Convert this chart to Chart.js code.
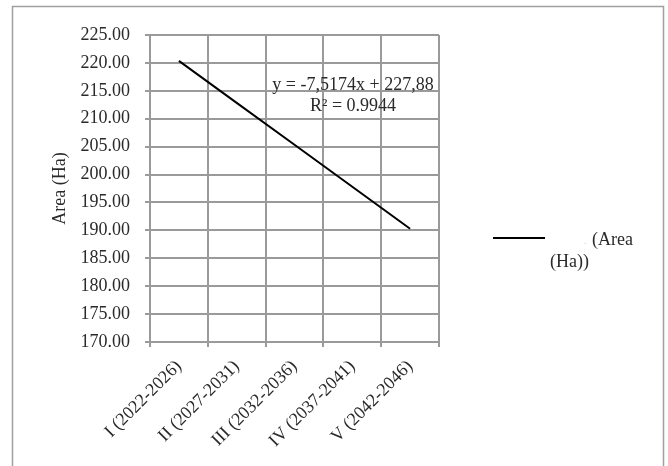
<!DOCTYPE html>
<html>
<head>
<meta charset="utf-8">
<script src="https://cdn.jsdelivr.net/npm/chart.js@4"></script>
<style>
  html, body { margin: 0; padding: 0; background: #fff; }
  #wrap { width: 668px; height: 466px; }
</style>
</head>
<body>
<div id="wrap"><canvas id="chart" width="668" height="466"></canvas></div>
<script>
// data
const periods = ['I (2022-2026)', 'II (2027-2031)', 'III (2032-2036)', 'IV (2037-2041)', 'V (2042-2046)'];
const areaTrend = [220.36, 212.85, 205.33, 197.81, 190.29];
const trendEquation = 'y = -7,5174x + 227,88';
const trendR2 = 'R² = 0.9944';
const legendLines = ['(Area', '(Ha))'];

const serif = '"Liberation Serif", "Times New Roman", serif';
const gridColor = '#9a9a9a';
const textColor = '#2a2a2a';

// frame, trend label and the custom legend
const extras = {
  id: 'extras',
  beforeDraw(chart) {
    const ctx = chart.ctx;
    ctx.save();
    ctx.fillStyle = '#fff';
    ctx.fillRect(0, 0, chart.width, chart.height);
    ctx.strokeStyle = '#a0a0a0';
    ctx.lineWidth = 1.5;
    ctx.strokeRect(12.5, 6.5, 651, 480);
    ctx.restore();
  },
  afterDraw(chart) {
    const ctx = chart.ctx;
    const area = chart.chartArea;
    ctx.save();
    ctx.font = '18px ' + serif;
    ctx.fillStyle = textColor;
    ctx.textBaseline = 'middle';
    ctx.textAlign = 'center';
    ctx.fillText(trendEquation, area.left + 203, area.top + 50);
    ctx.fillText(trendR2, area.left + 203, area.top + 71);

    // legend
    ctx.strokeStyle = '#000';
    ctx.lineWidth = 2;
    ctx.beginPath();
    ctx.moveTo(493, 238);
    ctx.lineTo(545, 238);
    ctx.stroke();
    ctx.textAlign = 'left';
    ctx.fillText(legendLines[0], 592, 240);
    ctx.fillText(legendLines[1], 550, 262);
    ctx.fillStyle = '#ccc';
    ctx.font = '10px ' + serif;
    ctx.fillText('.', 584, 241);
    ctx.restore();
  }
};

new Chart(document.getElementById('chart'), {
  type: 'line',
  data: {
    labels: periods,
    datasets: [{
      label: '(Area (Ha))',
      data: areaTrend,
      borderColor: '#000',
      borderWidth: 2,
      pointRadius: 0,
      tension: 0,
      fill: false
    }]
  },
  options: {
    responsive: false,
    animation: false,
    layout: { padding: { left: 40, top: 35, right: 229, bottom: 0 } },
    plugins: {
      legend: { display: false },
      tooltip: { enabled: false }
    },
    scales: {
      x: {
        offset: true,
        grid: { offset: true, color: gridColor, lineWidth: 2, tickLength: 5 },
        border: { color: gridColor, width: 2 },
        ticks: {
          autoSkip: false,
          minRotation: 45,
          maxRotation: 45,
          padding: 9,
          color: textColor,
          font: { family: serif, size: 18 }
        },
        afterFit(scale) { scale.height = 124; }
      },
      y: {
        min: 170,
        max: 225,
        grid: { color: gridColor, lineWidth: 2, tickLength: 5 },
        border: { color: gridColor, width: 2 },
        ticks: {
          stepSize: 5,
          padding: 15,
          color: textColor,
          font: { family: serif, size: 18 },
          callback: (v) => v.toFixed(2)
        },
        title: {
          display: true,
          text: 'Area (Ha)',
          color: textColor,
          font: { family: serif, size: 18 },
          padding: { top: 9, bottom: 0 }
        },
        afterFit(scale) { scale.width = 110; }
      }
    }
  },
  plugins: [extras]
});
</script>
</body>
</html>
